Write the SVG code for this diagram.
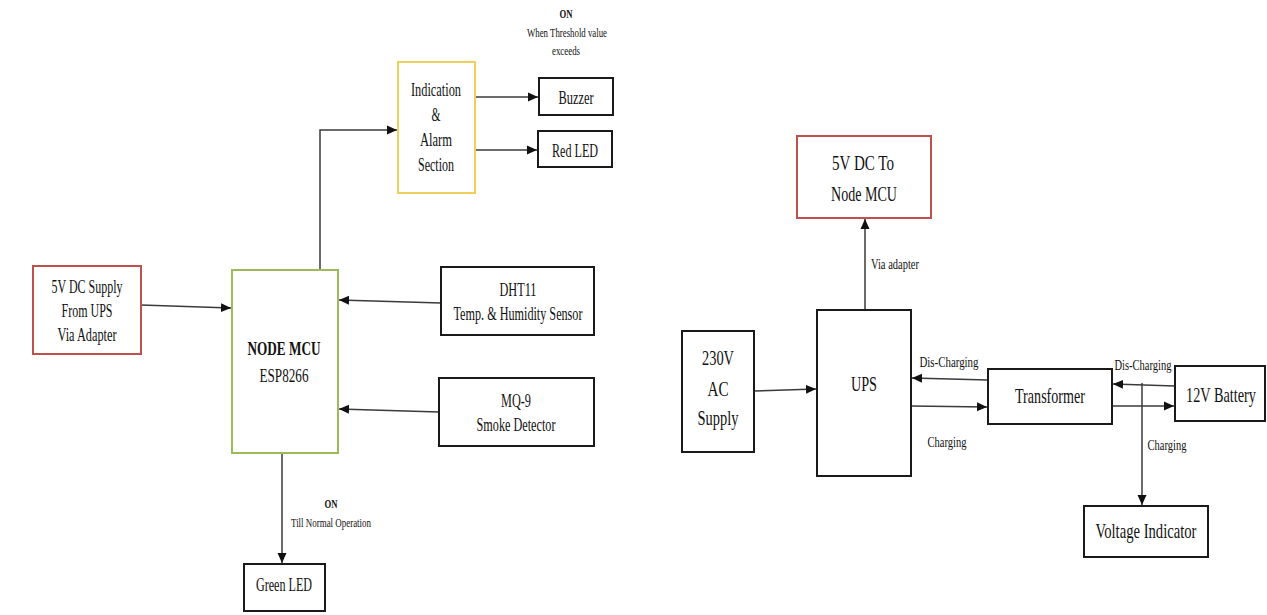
<svg xmlns="http://www.w3.org/2000/svg" width="1267" height="615" viewBox="0 0 1267 615">
<style>
  .box{fill:#fff;stroke:#1a1a1a;stroke-width:2}
  .red{stroke:#c0504d}
  .green{stroke:#9bbb59}
  .yellow{stroke:#f0cf5a}
  text{font-family:"Liberation Serif","Times New Roman",serif;fill:#111;text-anchor:middle}
  .m{font-size:19px}
  .l{font-size:22px}
  .s{font-size:14px}
  .xs{font-size:13px}
  .b{font-weight:bold}
  .conn path{fill:none;stroke:#3a3a3a;stroke-width:1.5;marker-end:url(#arr)}
</style>
<defs>
  <marker id="arr" markerUnits="userSpaceOnUse" markerWidth="10" markerHeight="10" viewBox="0 0 10 10" refX="10" refY="5" orient="auto">
    <path d="M0,0.5 L10,5 L0,9.5 Z" fill="#111"/>
  </marker>
</defs>
<rect width="1267" height="615" fill="#fff"/>

<g class="conn" id="connectors">
  <path d="M141,305 L231,308"/>
  <path d="M441,303 L339,300"/>
  <path d="M439,412 L339,409"/>
  <path d="M320,269 L320,130 L397,130"/>
  <path d="M475,97 L538,97"/>
  <path d="M475,150 L537,150"/>
  <path d="M282,453 L282,563"/>
  <path d="M865,310 L865,219"/>
  <path d="M754,391 L816,389"/>
  <path d="M988,380 L912,378"/>
  <path d="M911,406 L987,407"/>
  <path d="M1175,386 L1113,384"/>
  <path d="M1112,406 L1174,406"/>
  <path d="M1142,383 L1142,505"/>
</g>

<g id="label-on-top">
  <text class="xs b" x="566" y="18" textLength="13" lengthAdjust="spacingAndGlyphs">ON</text>
  <text class="xs" x="567" y="37" textLength="80" lengthAdjust="spacingAndGlyphs">When Threshold value</text>
  <text class="xs" x="566" y="55" textLength="28" lengthAdjust="spacingAndGlyphs">exceeds</text>
</g>

<g id="indication">
  <rect class="box yellow" x="398" y="62" width="77" height="131"/>
  <text class="m" x="436" y="96" textLength="50" lengthAdjust="spacingAndGlyphs">Indication</text>
  <text class="m" x="436" y="121" textLength="9" lengthAdjust="spacingAndGlyphs">&amp;</text>
  <text class="m" x="436" y="146" textLength="32" lengthAdjust="spacingAndGlyphs">Alarm</text>
  <text class="m" x="436" y="171" textLength="36" lengthAdjust="spacingAndGlyphs">Section</text>
</g>

<g id="buzzer">
  <rect class="box" x="539" y="78" width="74" height="37"/>
  <text class="m" x="576" y="104" textLength="35" lengthAdjust="spacingAndGlyphs">Buzzer</text>
</g>

<g id="redled">
  <rect class="box" x="538" y="131" width="74" height="36"/>
  <text class="m" x="575" y="157" textLength="46" lengthAdjust="spacingAndGlyphs">Red LED</text>
</g>

<g id="supply5v">
  <rect class="box red" x="33" y="266" width="108" height="88"/>
  <text class="m" x="87" y="293" textLength="71" lengthAdjust="spacingAndGlyphs">5V DC Supply</text>
  <text class="m" x="87" y="317" textLength="51" lengthAdjust="spacingAndGlyphs">From UPS</text>
  <text class="m" x="87" y="341" textLength="59" lengthAdjust="spacingAndGlyphs">Via Adapter</text>
</g>

<g id="nodemcu">
  <rect class="box green" x="232" y="270" width="106" height="183"/>
  <text class="m b" x="284" y="355" textLength="73" lengthAdjust="spacingAndGlyphs">NODE MCU</text>
  <text class="m" x="284" y="382" textLength="49" lengthAdjust="spacingAndGlyphs">ESP8266</text>
</g>

<g id="dht11">
  <rect class="box" x="441" y="267" width="153" height="68"/>
  <text class="m" x="518" y="296" textLength="37" lengthAdjust="spacingAndGlyphs">DHT11</text>
  <text class="m" x="518" y="320" textLength="129" lengthAdjust="spacingAndGlyphs">Temp. &amp; Humidity Sensor</text>
</g>

<g id="mq9">
  <rect class="box" x="439" y="378" width="155" height="68"/>
  <text class="m" x="516" y="407" textLength="30" lengthAdjust="spacingAndGlyphs">MQ-9</text>
  <text class="m" x="516" y="431" textLength="79" lengthAdjust="spacingAndGlyphs">Smoke Detector</text>
</g>

<g id="label-on-bottom">
  <text class="xs b" x="331" y="508" textLength="13" lengthAdjust="spacingAndGlyphs">ON</text>
  <text class="xs" x="331" y="527" textLength="80" lengthAdjust="spacingAndGlyphs">Till Normal Operation</text>
</g>

<g id="greenled">
  <rect class="box" x="244" y="564" width="81" height="47"/>
  <text class="m" x="284" y="591" textLength="56" lengthAdjust="spacingAndGlyphs">Green LED</text>
</g>

<g id="dcout">
  <rect class="box red" x="797" y="136" width="134" height="82"/>
  <text class="l" x="863" y="170" textLength="62" lengthAdjust="spacingAndGlyphs">5V DC To</text>
  <text class="l" x="864" y="201" textLength="66" lengthAdjust="spacingAndGlyphs">Node MCU</text>
</g>

<g id="label-via">
  <text class="s" x="895" y="269" textLength="48" lengthAdjust="spacingAndGlyphs">Via adapter</text>
</g>

<g id="acsupply">
  <rect class="box" x="682" y="331" width="72" height="121"/>
  <text class="l" x="718" y="365" textLength="32" lengthAdjust="spacingAndGlyphs">230V</text>
  <text class="l" x="718" y="396" textLength="21" lengthAdjust="spacingAndGlyphs">AC</text>
  <text class="l" x="718" y="425" textLength="41" lengthAdjust="spacingAndGlyphs">Supply</text>
</g>

<g id="ups">
  <rect class="box" x="817" y="310" width="94" height="166"/>
  <text class="l" x="864" y="391" textLength="26" lengthAdjust="spacingAndGlyphs">UPS</text>
</g>

<g id="transformer">
  <rect class="box" x="988" y="369" width="124" height="55"/>
  <text class="l" x="1050" y="403" textLength="70" lengthAdjust="spacingAndGlyphs">Transformer</text>
</g>

<g id="labels-ups-transformer">
  <text class="s" x="949" y="367" textLength="59" lengthAdjust="spacingAndGlyphs">Dis-Charging</text>
  <text class="s" x="947" y="447" textLength="39" lengthAdjust="spacingAndGlyphs">Charging</text>
</g>

<g id="battery">
  <rect class="box" x="1175" y="366" width="90" height="55"/>
  <text class="l" transform="translate(1221,402) scale(0.65,1)" x="0" y="0">12V Battery</text>
</g>

<g id="labels-transformer-battery">
  <text class="s" x="1143" y="370" textLength="57" lengthAdjust="spacingAndGlyphs">Dis-Charging</text>
  <text class="s" x="1167" y="450" textLength="39" lengthAdjust="spacingAndGlyphs">Charging</text>
</g>

<g id="voltind">
  <rect class="box" x="1084" y="506" width="124" height="51"/>
  <text class="l" x="1146" y="538" textLength="101" lengthAdjust="spacingAndGlyphs">Voltage Indicator</text>
</g>
</svg>
